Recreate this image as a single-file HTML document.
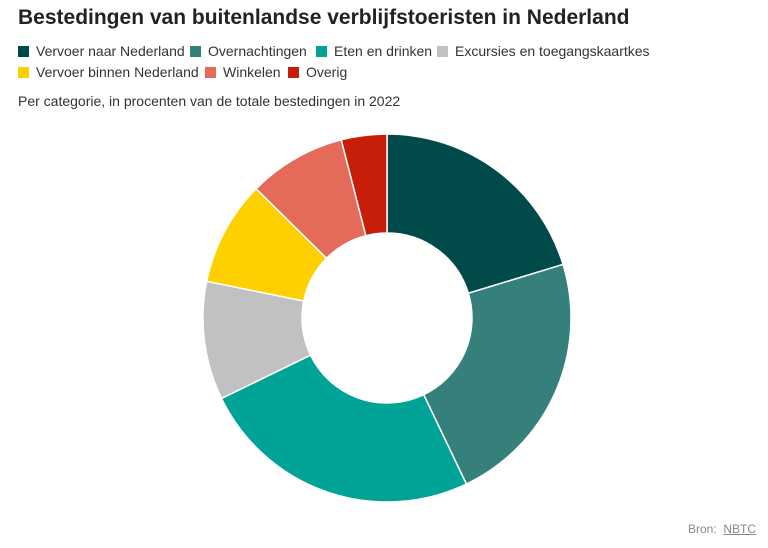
<!DOCTYPE html>
<html><head><meta charset="utf-8"><style>
body{margin:0;width:768px;height:548px;background:#fff;font-family:"Liberation Sans",sans-serif;position:relative;overflow:hidden;color:#222}
h1{position:absolute;left:18px;top:6px;margin:0;font-size:21px;font-weight:bold;color:#222}
.leg{position:absolute;font-size:14px;color:#333;display:flex;align-items:center}
.sw{width:11px;height:11px;margin-right:7px;display:inline-block}
.sub{position:absolute;left:18px;top:93px;font-size:14px;color:#333}
.src{position:absolute;right:12px;top:522px;font-size:12px;color:#888}
.src a{color:#888;text-decoration:underline}
</style></head><body>
<h1>Bestedingen van buitenlandse verblijfstoeristen in Nederland</h1>
<div>
<div class="leg" style="left:18px;top:43px"><span class="sw" style="background:#004a4a"></span>Vervoer naar Nederland</div>
<div class="leg" style="left:190px;top:43px"><span class="sw" style="background:#35807a"></span>Overnachtingen</div>
<div class="leg" style="left:316px;top:43px"><span class="sw" style="background:#00a396"></span>Eten en drinken</div>
<div class="leg" style="left:437px;top:43px"><span class="sw" style="background:#c1c1c1"></span>Excursies en toegangskaartkes</div>
<div class="leg" style="left:18px;top:64px"><span class="sw" style="background:#ffd000"></span>Vervoer binnen Nederland</div>
<div class="leg" style="left:205px;top:64px"><span class="sw" style="background:#e46a5a"></span>Winkelen</div>
<div class="leg" style="left:288px;top:64px"><span class="sw" style="background:#c71e0a"></span>Overig</div>
</div>
<div class="sub">Per categorie, in procenten van de totale bestedingen in 2022</div>
<svg id="chart" width="768" height="548" style="position:absolute;left:0;top:0"></svg>
<div class="src">Bron: &nbsp;<a>NBTC</a></div>
<script>
const categories=["Vervoer naar Nederland","Overnachtingen","Eten en drinken","Excursies en toegangskaartkes","Vervoer binnen Nederland","Winkelen","Overig"];
const values=[20.3,22.6,24.9,10.4,9.2,8.6,4.0];
const colors=["#004a4a","#35807a","#00a396","#c1c1c1","#ffd000","#e46a5a","#c71e0a"];
const svg=document.getElementById('chart');
const cx=387,cy=318,R=184,r=85;
const total=values.reduce((a,b)=>a+b,0);
let a0=0;
function pt(a,rad){return [cx+rad*Math.sin(a),cy-rad*Math.cos(a)];}
values.forEach((v,i)=>{
  const a1=a0+v/total*2*Math.PI;
  const large=(a1-a0)>Math.PI?1:0;
  const [x1,y1]=pt(a0,R),[x2,y2]=pt(a1,R),[x3,y3]=pt(a1,r),[x4,y4]=pt(a0,r);
  const p=document.createElementNS('http://www.w3.org/2000/svg','path');
  p.setAttribute('d',`M${x1},${y1}A${R},${R} 0 ${large} 1 ${x2},${y2}L${x3},${y3}A${r},${r} 0 ${large} 0 ${x4},${y4}Z`);
  p.setAttribute('fill',colors[i]);
  p.setAttribute('stroke','#fff');
  p.setAttribute('stroke-width','1.5');
  
  
  svg.appendChild(p);
  a0=a1;
});
</script>
</body></html>
